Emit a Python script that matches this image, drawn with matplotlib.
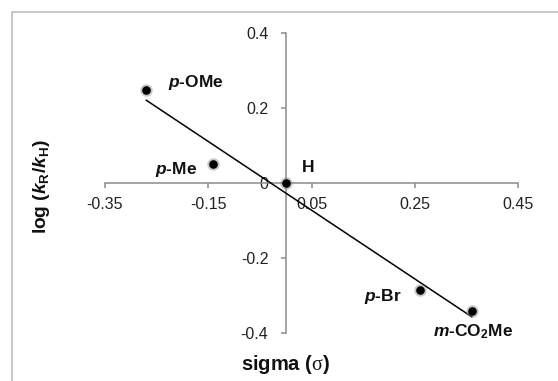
import matplotlib
matplotlib.use("Agg")
from matplotlib import pyplot as plt
from matplotlib.lines import Line2D
import numpy as np

plt.rcParams['font.family'] = ['Liberation Sans', 'DejaVu Sans']
plt.rcParams['mathtext.fontset'] = 'custom'
plt.rcParams['mathtext.rm'] = 'Liberation Sans:bold'
plt.rcParams['mathtext.it'] = 'Liberation Sans:bold:italic'
plt.rcParams['mathtext.bf'] = 'Liberation Sans:bold'
plt.rcParams['mathtext.sf'] = 'Liberation Serif'

# data
sigma = [-0.27, -0.14, 0.0, 0.26, 0.36]
log_k = [0.248, 0.049, 0.0, -0.285, -0.343]
names = [r"$\mathit{p}$-OMe", r"$\mathit{p}$-Me", "H", r"$\mathit{p}$-Br",
         r"$\mathit{m}$-CO$_2$Me"]
x_ticks = [-0.35, -0.15, 0.05, 0.25, 0.45]
x_tick_labels = ["-0.35", "-0.15", "0.05", "0.25", "0.45"]
y_ticks = [0.4, 0.2, 0.0, -0.2, -0.4]
y_tick_labels = ["0.4", "0.2", "0", "-0.2", "-0.4"]

# label offsets in pixels from each point
offsets = [(50, 7), (-37, -5), (22, 15), (-37, -7), (1, -20)]

fig = plt.figure(figsize=(5.58, 3.81), dpi=100)
ax = fig.add_axes([105 / 558, (381 - 332.7) / 381, 413.3 / 558, 300 / 381])

# chart-area border (only top and left visible)
fig.add_artist(Line2D([12 / 558, 12 / 558], [-0.1, 1 - 12 / 381],
                      transform=fig.transFigure, color='#c4c4c4', lw=1.3))
fig.add_artist(Line2D([12 / 558, 1.1], [1 - 12 / 381, 1 - 12 / 381],
                      transform=fig.transFigure, color='#c4c4c4', lw=1.3))

ax.set_xlim(-0.35, 0.45)
ax.set_ylim(-0.4, 0.4)

for s in ['right', 'top']:
    ax.spines[s].set_visible(False)
for s in ['left', 'bottom']:
    ax.spines[s].set_position(('data', 0))
    ax.spines[s].set_color('#8c8c8c')
    ax.spines[s].set_linewidth(1.1)

ax.set_xticks(x_ticks)
ax.set_xticklabels(x_tick_labels)
ax.set_yticks(y_ticks)
ax.set_yticklabels(y_tick_labels)
ax.tick_params(axis='both', direction='out', length=3.5, width=1.1,
               color='#8c8c8c', labelsize=11.5, labelcolor='#222222')
ax.tick_params(axis='y', pad=9)
ax.tick_params(axis='x', pad=7)

# linear trendline
a, b = np.polyfit(sigma, log_k, 1)
xl = np.array([min(sigma), max(sigma)])
ax.plot(xl, a * xl + b, color='black', lw=1.1, zorder=3)

# points with soft halo
ax.plot(sigma, log_k, 'o', ms=9, color='#888888', alpha=0.45, mec='none', zorder=4)
ax.plot(sigma, log_k, 'o', ms=6.2, color='black', mec='none', zorder=5)

for xs, ys, n, (dx, dy) in zip(sigma, log_k, names, offsets):
    ax.annotate(n, (xs, ys), xytext=(dx * 0.72, dy * 0.72), textcoords='offset points',
                ha='center', va='center', fontsize=12.5, fontweight='bold', color='#111111')

fig.text(286 / 558, 1 - 365 / 381, r"sigma ($\mathsf{\sigma}$)", ha='center', va='center',
         fontsize=14.5, fontweight='bold', color='#111111')
fig.text(41.5 / 558, 1 - 187 / 381, r"log ($k_{\mathrm{R}}$/$k_{\mathrm{H}}$)", rotation=90,
         ha='center', va='center', fontsize=13.8, fontweight='bold', color='#111111')

fig.savefig('out.png', dpi=100)
